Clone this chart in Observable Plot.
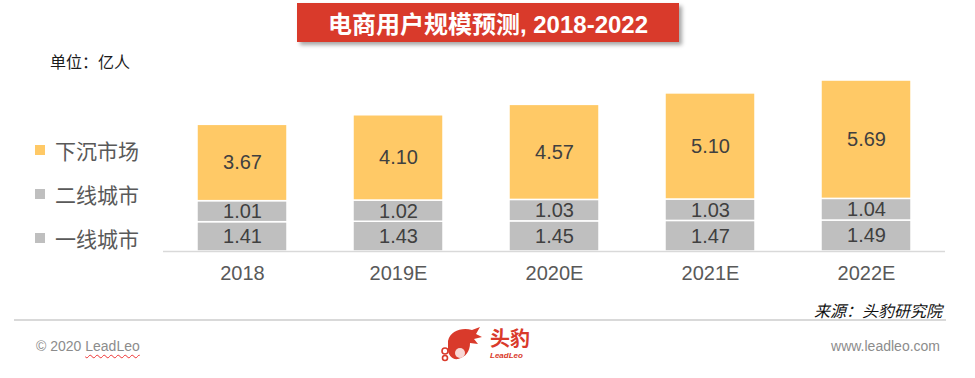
<!DOCTYPE html>
<html><head><meta charset="utf-8">
<script src="https://cdn.jsdelivr.net/npm/d3@7"></script>
<script src="https://cdn.jsdelivr.net/npm/@observablehq/plot@0.6"></script>
<style>
body{margin:0;background:#fff;font-family:"Liberation Sans","Noto Sans CJK SC",sans-serif;}
#wrap{position:relative;width:975px;height:378px;overflow:hidden;}
#chart{position:absolute;left:0;top:0;}
.abs{position:absolute;white-space:nowrap;line-height:1;}
#title{left:297px;top:3px;width:382px;height:39px;background:#D93A2B;color:#fff;font:bold 24px "Liberation Sans","Noto Sans CJK SC",sans-serif;display:flex;align-items:center;justify-content:center;box-shadow:3px 3px 4px rgba(0,0,0,0.35);}
#unit{left:50px;top:49px;font:16px "Noto Sans CJK SC",sans-serif;color:#1a1a1a;}
.leg{left:35px;font:21px "Noto Sans CJK SC",sans-serif;color:#595959;display:flex;align-items:center;}
.leg i{display:inline-block;width:10px;height:10px;margin-right:10px;}
#src{right:33px;top:298px;font:italic 16px "Noto Sans CJK SC",sans-serif;color:#111;}
#line{left:14px;top:319px;width:932px;height:2px;background:#d9d9d9;}
#copy{left:36px;top:338px;font:14px "Liberation Sans",sans-serif;color:#8c8c8c;}
#copy u{text-decoration:underline wavy #e33;text-underline-offset:3px;text-decoration-thickness:1px;}
#web{right:35px;top:338px;font:14px "Liberation Sans",sans-serif;color:#8c8c8c;}
#logo{left:440px;top:325px;color:#D93A2B;display:flex;align-items:center;}
#logo .t{font:bold 20px "Noto Sans CJK SC",sans-serif;line-height:20px;}
#logo .s{font:italic bold 8px "Liberation Sans",sans-serif;margin-top:3px;}
</style></head>
<body><div id="wrap"><div id="chart"></div></div>
<script>
const years = ["2018","2019E","2020E","2021E","2022E"];
const series = ["一线城市","二线城市","下沉市场"];
const tier1 = [1.41,1.43,1.45,1.47,1.49];
const tier2 = [1.01,1.02,1.03,1.03,1.04];
const lower = [3.67,4.10,4.57,5.10,5.69];
const colors = ["#BFBFBF","#BFBFBF","#FFC966"];

const valuesBySeries = [tier1, tier2, lower];
const data = [];
series.forEach((s,i)=>years.forEach((y,j)=>data.push({year:y, series:s, value:valuesBySeries[i][j]})));

const chart = Plot.plot({
  width:975, height:378,
  marginLeft:163, marginRight:30, marginTop:63.8, marginBottom:127,
  style:{fontFamily:"Liberation Sans, sans-serif", background:"transparent"},
  x:{domain:years, paddingInner:0.42, paddingOuter:0.21, label:null},
  y:{domain:[0,9], axis:null},
  color:{domain:series, range:colors},
  marks:[
    Plot.barY(data, Plot.stackY({x:"year", y:"value", fill:"series", stroke:"#fff", strokeWidth:1.5})),
    Plot.text(data, Plot.stackY({x:"year", y:"value", text:d=>d.value.toFixed(2), fill:"#404040", fontSize:20})),
    Plot.ruleY([0], {stroke:"#d9d9d9", strokeWidth:1.5}),
    Plot.axisX({tickSize:0, tickPadding:14, fontSize:20, fill:"#595959", label:null})
  ]
});
document.getElementById("chart").appendChild(chart);

const wrap = document.getElementById("wrap");
function add(id, cls, html, style){const d=document.createElement("div"); if(id) d.id=id; d.className=cls; d.innerHTML=html; if(style) d.style.cssText=style; wrap.appendChild(d); return d;}
add("title","abs","电商用户规模预测, 2018-2022");
add("unit","abs","单位：亿人");
const legendY = [135,179,223];
[2,1,0].forEach((si,k)=>add(null,"abs leg",`<i style="background:${colors[si]}"></i>${series[si]}`,`top:${legendY[k]}px`));
add("src","abs","来源：头豹研究院");
add("line","abs","");
add("copy","abs","© 2020 <u>LeadLeo</u>");
add("web","abs","www.leadleo.com");
add("logo","abs",`<svg width="44" height="38" viewBox="0 0 44 38"><path d="M8 16 C10 6 22 2 32 5 L40 2 L36 9 L42 12 L34 14 L38 19 L30 18 C30 26 26 32 18 34 C12 35 8 30 8 24 Z" fill="#D93A2B"/><circle cx="5" cy="26" r="3" fill="none" stroke="#D93A2B" stroke-width="1.6"/><circle cx="5" cy="33" r="2.5" fill="none" stroke="#D93A2B" stroke-width="1.6"/><circle cx="20" cy="28" r="5" fill="#fff" opacity="0.8"/></svg><div style="margin-left:6px"><div class="t">头豹</div><div class="s">LeadLeo</div></div>`);
</script></body></html>
